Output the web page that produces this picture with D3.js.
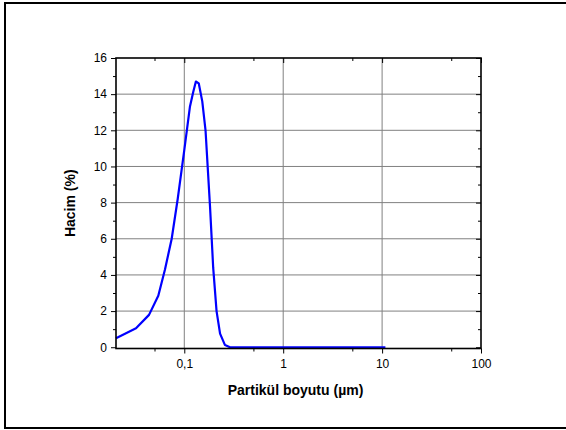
<!DOCTYPE html>
<html>
<head>
<meta charset="utf-8">
<script src="https://cdn.jsdelivr.net/npm/d3@7"></script>
<style>
  body { margin: 0; background: #fff; }
  svg { display: block; font-family: Arial, "Liberation Sans", sans-serif; }
</style>
</head>
<body>
<div id="chart"></div>
<script>
// particle size (um) and volume (%)
var sizes = [0.0204, 0.0325, 0.044, 0.0546, 0.0638, 0.0746, 0.0858, 0.1, 0.114, 0.123, 0.131, 0.140,
  0.152, 0.164, 0.182, 0.196, 0.212, 0.23, 0.258, 0.29, 0.5, 1, 2, 5, 10.8];
var volumes = [0.5, 1.05, 1.79, 2.85, 4.3, 6.0, 8.2, 10.9, 13.3, 14.1, 14.7, 14.6,
  13.6, 12.0, 7.8, 4.4, 2.0, 0.75, 0.12, 0, 0, 0, 0, 0, 0];

var xTicks = [0.1, 1, 10, 100];
var xTickLabels = ["0,1", "1", "10", "100"];
var xMinorTicks = [0.05, 0.5, 5, 50];
var yTicks = [0, 2, 4, 6, 8, 10, 12, 14, 16];
var yMinorTicks = [1, 3, 5, 7, 9, 11, 13, 15];

(function() {
  var W = 566, H = 430;
  var margin = { top: 58, left: 116, right: 85, bottom: 81.5 },
  width = W - margin.left - margin.right,
  height = H - margin.top - margin.bottom;

  var root = d3.select("#chart")
    .append("svg")
    .attr("width", W)
    .attr("height", H);

  // outer frame
  root.append("rect")
    .attr("x", 5).attr("y", 3)
    .attr("width", 570).attr("height", 425)
    .attr("fill", "none").attr("stroke", "black").attr("stroke-width", 2);

  var svg = root.append("g")
    .attr("transform", "translate(" + margin.left + "," + margin.top + ")");

  var xPositionScale = d3.scaleLog()
    .domain([0.0204, 100])
    .range([0, width]);

  var yPositionScale = d3.scaleLinear()
    .domain([-0.07, 16])
    .range([height, 0]);

  // gridlines
  svg.selectAll(".vgrid")
    .data(xTicks.filter(function(d) { return d < 100; }))
    .enter().append("line")
    .attr("x1", function(d) { return xPositionScale(d); })
    .attr("x2", function(d) { return xPositionScale(d); })
    .attr("y1", 0).attr("y2", height)
    .attr("stroke", "#808080").attr("stroke-width", 1);

  svg.selectAll(".hgrid")
    .data(yTicks.filter(function(d) { return d > 0 && d < 16; }))
    .enter().append("line")
    .attr("x1", 0).attr("x2", width)
    .attr("y1", function(d) { return yPositionScale(d); })
    .attr("y2", function(d) { return yPositionScale(d); })
    .attr("stroke", "#808080").attr("stroke-width", 1);

  // the curve
  var points = sizes.map(function(s, i) { return { size: s, vol: volumes[i] }; });
  var line = d3.line()
    .x(function(d) { return xPositionScale(d.size); })
    .y(function(d) { return yPositionScale(d.vol); });

  svg.append("path")
    .datum(points)
    .attr("d", line)
    .attr("stroke", "#0000ff")
    .attr("stroke-width", 2.2)
    .attr("stroke-linejoin", "round")
    .attr("fill", "none");

  function clean(g) {
    g.select(".domain").remove();
    g.selectAll(".tick line").attr("stroke", "black").attr("stroke-width", 1);
    g.selectAll(".tick text").attr("fill", "#000").style("font-size", "12px")
      .style("font-family", "Arial, 'Liberation Sans', sans-serif");
  }

  // bottom axis
  svg.append("g")
    .attr("transform", "translate(0," + height + ")")
    .call(d3.axisBottom(xPositionScale).tickValues(xTicks)
      .tickFormat(function(d, i) { return xTickLabels[i]; })
      .tickSize(5).tickPadding(6))
    .call(clean);
  svg.append("g")
    .attr("transform", "translate(0," + height + ")")
    .call(d3.axisBottom(xPositionScale).tickValues(xMinorTicks).tickFormat("").tickSize(3))
    .call(clean);

  // top axis, ticks inward
  svg.append("g")
    .call(d3.axisBottom(xPositionScale).tickValues(xTicks).tickFormat("").tickSize(5))
    .call(clean);
  svg.append("g")
    .call(d3.axisBottom(xPositionScale).tickValues(xMinorTicks).tickFormat("").tickSize(3))
    .call(clean);

  // left axis
  svg.append("g")
    .call(d3.axisLeft(yPositionScale).tickValues(yTicks).tickSize(5).tickPadding(4))
    .call(clean);
  svg.append("g")
    .call(d3.axisLeft(yPositionScale).tickValues(yMinorTicks).tickFormat("").tickSize(3))
    .call(clean);

  // right axis, ticks inward
  svg.append("g")
    .attr("transform", "translate(" + width + ",0)")
    .call(d3.axisLeft(yPositionScale).tickValues(yTicks).tickFormat("").tickSize(5))
    .call(clean);
  svg.append("g")
    .attr("transform", "translate(" + width + ",0)")
    .call(d3.axisLeft(yPositionScale).tickValues(yMinorTicks).tickFormat("").tickSize(3))
    .call(clean);

  // plot frame
  svg.append("rect")
    .attr("x", 0).attr("y", 0)
    .attr("width", width).attr("height", height)
    .attr("fill", "none").attr("stroke", "black").attr("stroke-width", 1.6);

  // axis titles
  svg.append("text")
    .attr("x", width / 2 - 3)
    .attr("y", height + 46)
    .attr("text-anchor", "middle")
    .style("font-size", "14px")
    .style("font-weight", "bold")
    .text("Partikül boyutu (µm)");

  svg.append("text")
    .attr("transform", "translate(-41," + (height / 2) + ") rotate(-90)")
    .attr("text-anchor", "middle")
    .style("font-size", "14px")
    .style("font-weight", "bold")
    .text("Hacim (%)");
})();
</script>
</body>
</html>
